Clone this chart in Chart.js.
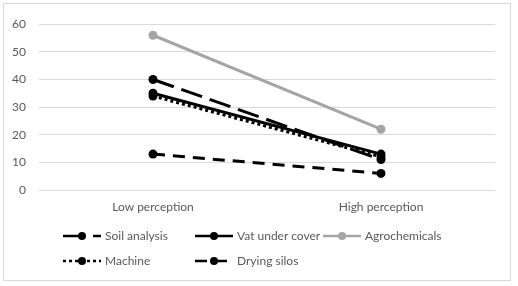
<!DOCTYPE html>
<html>
<head>
<meta charset="utf-8">
<script src="https://cdn.jsdelivr.net/npm/chart.js@4.4.1/dist/chart.umd.min.js"></script>
<style>
  html, body { margin: 0; padding: 0; background: #fff; }
  body { width: 518px; height: 286px; position: relative; font-family: Lato, "Open Sans", sans-serif; }
  #frame { position: absolute; left: 3px; top: 3px; width: 506px; height: 276px; border: 1px solid #d9d9d9; }
  #wrap { position: absolute; left: 0; top: 0; width: 506px; height: 276px; }
  #legend { position: absolute; left: 59px; top: 219px; display: grid; grid-template-columns: 132px 128px auto; grid-auto-rows: 25px; font-size: 12px; color: #595959; }
  .item { display: flex; align-items: center; white-space: nowrap; }
  .item svg { margin-right: 4px; }
</style>
</head>
<body>
<div id="frame">
  <div id="wrap"><canvas id="chart" width="506" height="276"></canvas></div>
  <div id="legend"></div>
</div>
<script>
const categories = ['Low perception', 'High perception'];
const seriesNames = ['Soil analysis', 'Vat under cover', 'Agrochemicals', 'Machine', 'Drying silos'];
const soilAnalysis = [40, 11];
const vatUnderCover = [35, 13];
const agrochemicals = [56, 22];
const machine = [34, 12];
const dryingSilos = [13, 6];
const yTicks = [0, 10, 20, 30, 40, 50, 60];

const styles = [
    { color: '#000000', dash: [22, 8] },
    { color: '#000000', dash: [] },
    { color: '#a5a5a5', dash: [] },
    { color: '#000000', dash: [3, 3] },
    { color: '#000000', dash: [12, 8] }
];
const values = [soilAnalysis, vatUnderCover, agrochemicals, machine, dryingSilos];

const datasets = seriesNames.map((name, i) => ({
    label: name,
    data: values[i],
    borderColor: styles[i].color,
    backgroundColor: styles[i].color,
    borderWidth: 3,
    borderDash: styles[i].dash,
    borderCapStyle: 'butt',
    pointRadius: 4.5,
    pointBorderWidth: 0,
    pointBackgroundColor: styles[i].color,
    tension: 0,
    fill: false,
    order: seriesNames.length - i
}));

Chart.defaults.font.family = 'Lato, "Open Sans", sans-serif';
Chart.defaults.font.size = 12;
Chart.defaults.color = '#595959';

new Chart(document.getElementById('chart'), {
    type: 'line',
    data: { labels: categories, datasets: datasets },
    options: {
        responsive: false,
        animation: false,
        layout: { padding: { top: 15, right: 15, bottom: 60, left: 0 } },
        plugins: { legend: { display: false }, tooltip: { enabled: false } },
        scales: {
            x: {
                offset: true,
                grid: { display: false, drawTicks: false },
                border: { display: false },
                ticks: { padding: 10 },
                afterFit: (s) => { s.height = 30; }
            },
            y: {
                min: 0,
                max: 60,
                afterBuildTicks: (s) => { s.ticks = yTicks.map(v => ({ value: v })); },
                grid: { color: '#d9d9d9', lineWidth: 1, drawTicks: false },
                border: { display: false },
                ticks: { padding: 13, autoSkip: false },
                afterFit: (s) => { s.width = 35; }
            }
        }
    }
});

// legend in the Excel layout: two rows, three columns
const legend = document.getElementById('legend');
seriesNames.forEach((name, i) => {
    const item = document.createElement('div');
    item.className = 'item';
    if (i === 3) item.style.gridColumn = '1';
    const c = styles[i].color;
    item.innerHTML =
        `<svg width="38" height="12"><line x1="0" y1="6" x2="38" y2="6" stroke="${c}" stroke-width="2.5" stroke-dasharray="${styles[i].dash.join(' ') || 'none'}"/>` +
        `<circle cx="19" cy="6" r="4" fill="${c}"/></svg><span>${name}</span>`;
    legend.appendChild(item);
});
</script>
</body>
</html>
